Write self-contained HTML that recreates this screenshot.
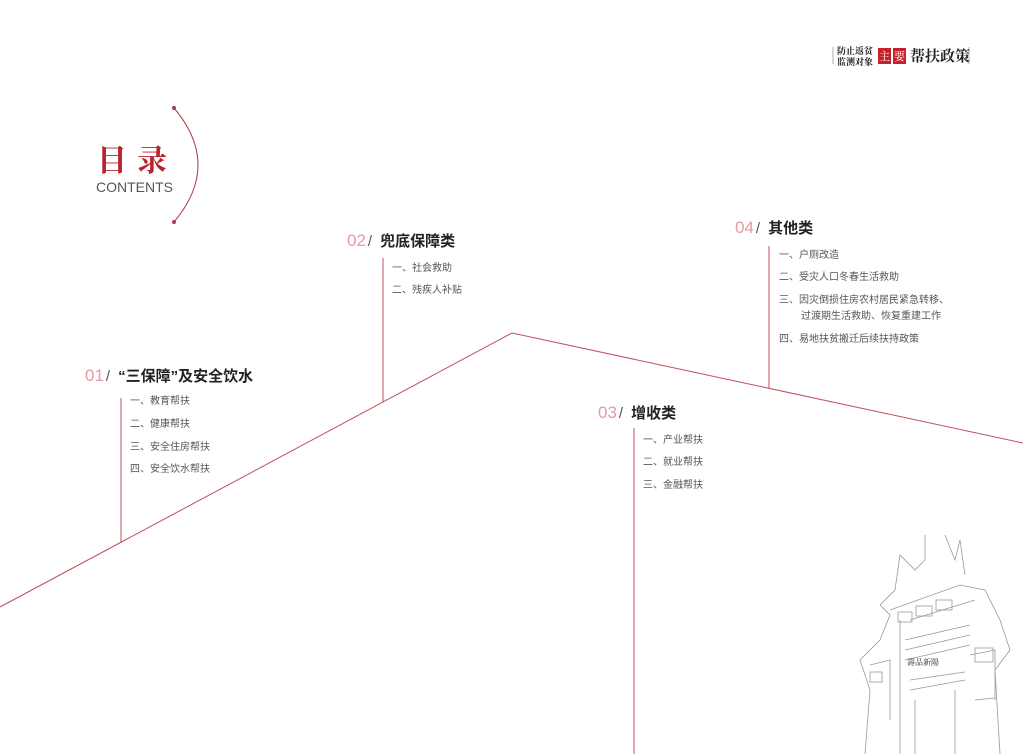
<!DOCTYPE html>
<html><head><meta charset="utf-8"><style>
body{margin:0;width:1023px;height:754px;background:#fff;position:relative;overflow:hidden;font-family:"Liberation Sans","Noto Sans CJK SC",sans-serif}
.t{position:absolute;white-space:nowrap}
.h{font-size:15px;font-weight:bold;color:#222}
.h .n{color:#e69aa3;font-weight:normal;font-size:17px}
.h .s{color:#555;font-weight:normal;font-size:15px;margin:0 8px 0 2px}
.i{font-size:10px;color:#555}
</style></head><body>
<svg width="1023" height="754" style="position:absolute;left:0;top:0">
<g stroke="#c0505a" stroke-width="1" fill="none">
<polyline points="0,607 512,333 1023,443"/>
<line x1="121" y1="398" x2="121" y2="543"/>
<line x1="383" y1="258" x2="383" y2="402"/>
<line x1="634" y1="428" x2="634" y2="754"/>
<line x1="769" y1="246" x2="769" y2="388"/>
<path d="M174,108 Q222,165 174,222" stroke="#b23a45"/>
</g>
<circle cx="174" cy="108" r="2" fill="#b23a45"/><circle cx="174" cy="222" r="2" fill="#b23a45"/>
<g stroke="#999" stroke-width="0.8" fill="none">
<line x1="833" y1="47" x2="833" y2="64"/><line x1="969" y1="47" x2="969" y2="64"/>
<path d="M925,535 L925,560 L915,570 L900,555 L895,590 L880,605 L890,615 L880,640 L860,660 L870,690 L865,754"/>
<path d="M890,610 L960,585 L985,590 L1000,620 L1010,650 L995,670 L1000,754"/>
<path d="M900,620 L900,754 M910,620 L975,600 M905,640 L970,625 M905,650 L970,635 M905,660 L970,645"/>
<path d="M910,680 L965,672 M910,690 L965,680 M915,700 L915,754 M955,690 L955,754"/>
<path d="M945,535 L955,560 L960,540 L965,575 M870,665 L890,660 L890,720 M970,655 L995,650 L995,700 M975,700 L995,698"/>
<rect x="898" y="612" width="14" height="10"/><rect x="916" y="606" width="16" height="10"/><rect x="936" y="600" width="16" height="10"/>
<rect x="975" y="648" width="18" height="14"/><rect x="870" y="672" width="12" height="10"/>
</g>
<text x="907" y="665" font-size="8" fill="#333" font-family="Noto Serif CJK SC">壽品新陽</text>
</svg>
<div class="t" style="left:97px;top:136px;font-size:30px;color:#b8232e;font-family:'Noto Serif CJK SC',serif;font-weight:bold;letter-spacing:10px">目录</div>
<div class="t" style="left:96px;top:179px;font-size:14px;color:#555">CONTENTS</div>
<div class="t" style="left:837px;top:45px;font-size:9px;line-height:11px;color:#222;font-family:'Noto Serif CJK SC',serif;font-weight:bold">防止返贫<br>监测对象</div>
<div class="t" style="left:878px;top:48px;font-size:11px;color:#fff;background:#c8202a;padding:0 1px;font-family:'Noto Serif CJK SC',serif">主</div>
<div class="t" style="left:893px;top:48px;font-size:11px;color:#fff;background:#c8202a;padding:0 1px;font-family:'Noto Serif CJK SC',serif">要</div>
<div class="t" style="left:910px;top:45px;font-size:15px;color:#222;font-family:'Noto Serif CJK SC',serif;font-weight:bold">帮扶政策</div>

<div class="t h" style="left:85px;top:365px"><span class="n">01</span><span class="s">/</span>“三保障”及安全饮水</div>
<div class="t i" style="left:130px;top:392px">一、教育帮扶</div>
<div class="t i" style="left:130px;top:415px">二、健康帮扶</div>
<div class="t i" style="left:130px;top:438px">三、安全住房帮扶</div>
<div class="t i" style="left:130px;top:460px">四、安全饮水帮扶</div>

<div class="t h" style="left:347px;top:230px"><span class="n">02</span><span class="s">/</span>兜底保障类</div>
<div class="t i" style="left:392px;top:259px">一、社会救助</div>
<div class="t i" style="left:392px;top:281px">二、残疾人补贴</div>

<div class="t h" style="left:598px;top:402px"><span class="n">03</span><span class="s">/</span>增收类</div>
<div class="t i" style="left:643px;top:431px">一、产业帮扶</div>
<div class="t i" style="left:643px;top:453px">二、就业帮扶</div>
<div class="t i" style="left:643px;top:476px">三、金融帮扶</div>

<div class="t h" style="left:735px;top:217px"><span class="n">04</span><span class="s">/</span>其他类</div>
<div class="t i" style="left:779px;top:246px">一、户厕改造</div>
<div class="t i" style="left:779px;top:268px">二、受灾人口冬春生活救助</div>
<div class="t i" style="left:779px;top:291px">三、因灾倒损住房农村居民紧急转移、</div>
<div class="t i" style="left:801px;top:307px">过渡期生活救助、恢复重建工作</div>
<div class="t i" style="left:779px;top:330px">四、易地扶贫搬迁后续扶持政策</div>
</body></html>
